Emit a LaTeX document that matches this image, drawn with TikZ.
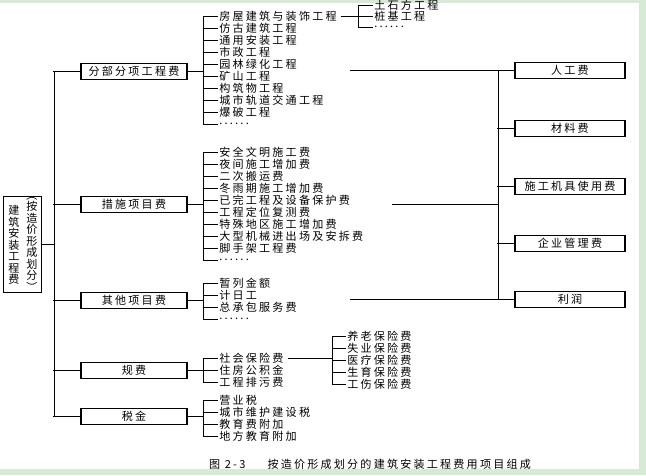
\documentclass[tikz,border=0pt]{standalone}
\usepackage{fontspec}
\setmainfont[LetterSpace=20]{Noto Sans CJK SC}
\usetikzlibrary{positioning}
\definecolor{pagegreen}{RGB}{214,234,214}
\newcommand{\moredots}{......}
\tikzstyle{cbox} = [draw, line width=0.9pt, minimum width=79.5pt, minimum height=12pt, inner sep=0pt]
\tikzstyle{rbox} = [draw, line width=0.9pt, minimum width=82.5pt, minimum height=12pt, inner sep=0pt]
\tikzstyle{item} = [anchor=west, inner sep=0pt, outer sep=1pt]

\begin{document}
\begin{tikzpicture}[x=0.75pt, y=-0.75pt, line width=0.6pt, font=\fontsize{8.3}{8.6}\selectfont]
	% ------------------- page ------------------- %
	\fill[pagegreen] (0,0) rectangle (646,475);
	\fill[white] (0,3) rectangle (639,469);
	
	% ------------------- root ------------------- %
	\node[draw, line width=0.9pt, minimum width=29pt, minimum height=72pt, inner sep=0pt] (root) at (22.5,244) {};
	\node[align=center, inner sep=0pt] (rootl) at (14,245) {建\\筑\\安\\装\\工\\程\\费};
	\node[align=center, inner sep=0pt] (rootr) at (32,244) {︵\\按\\造\\价\\形\\成\\划\\分\\︶};
	\draw (root.east) -- (54,244);
	\draw (54,71) -- (54,416);
	
	% ------------------- cost groups ------------------- %
	\foreach \name/\y/\txt in {fb/71/分部分项工程费, cs/204/措施项目费, qt/300/其他项目费, gf/370/规费, sj/416/税金}
	{
		\node[cbox] (\name) at (134,\y) {\txt};
		\draw (\name.west) -- ++(-27,0);
		\draw (\name.east) -- (203,\y);
	}
	
	% ------------------- item lists ------------------- %
	\draw (203,16) -- (203,124);
	\foreach \t [count=\i from 0] in {房屋建筑与装饰工程, 仿古建筑工程, 通用安装工程, 市政工程, 园林绿化工程, 矿山工程, 构筑物工程, 城市轨道交通工程, 爆破工程, \moredots}
	{
		\node[item] (fb-\i) at (218,{16+12*\i}) {\t};
		\draw (203,{16+12*\i}) -- (fb-\i.west);
	}
	\draw (203,152) -- (203,260);
	\foreach \t [count=\i from 0] in {安全文明施工费, 夜间施工增加费, 二次搬运费, 冬雨期施工增加费, 已完工程及设备保护费, 工程定位复测费, 特殊地区施工增加费, 大型机械进出场及安拆费, 脚手架工程费, \moredots}
	{
		\node[item] (cs-\i) at (218,{152+12*\i}) {\t};
		\draw (203,{152+12*\i}) -- (cs-\i.west);
	}
	\draw (203,283) -- (203,319);
	\foreach \t [count=\i from 0] in {暂列金额, 计日工, 总承包服务费, \moredots}
	{
		\node[item] (qt-\i) at (218,{283+12*\i}) {\t};
		\draw (203,{283+12*\i}) -- (qt-\i.west);
	}
	\draw (203,358) -- (203,382);
	\foreach \t [count=\i from 0] in {社会保险费, 住房公积金, 工程排污费}
	{
		\node[item] (gf-\i) at (218,{358+12*\i}) {\t};
		\draw (203,{358+12*\i}) -- (gf-\i.west);
	}
	\draw (203,400) -- (203,436);
	\foreach \t [count=\i from 0] in {营业税, 城市维护建设税, 教育费附加, 地方教育附加}
	{
		\node[item] (sj-\i) at (218,{400+12*\i}) {\t};
		\draw (203,{400+12*\i}) -- (sj-\i.west);
	}
	
	% ------------------- sub lists ------------------- %
	\draw (fb-0.east) ++(3,0) -- (358,16);
	\draw (358,5) -- (358,27);
	\foreach \t [count=\i from 0] in {土石方工程, 桩基工程, \moredots}
	{
		\node[item] (tf-\i) at (373,{5+11*\i}) {\t};
		\draw (358,{5+11*\i}) -- (tf-\i.west);
	}
	\draw (gf-0.east) ++(3,0) -- (332,358);
	\draw (332,336) -- (332,384);
	\foreach \t [count=\i from 0] in {养老保险费, 失业保险费, 医疗保险费, 生育保险费, 工伤保险费}
	{
		\node[item] (bx-\i) at (346,{336+12*\i}) {\t};
		\draw (332,{336+12*\i}) -- (bx-\i.west);
	}
	
	% ------------------- cost elements ------------------- %
	\foreach \name/\y/\txt in {rg/70/人工费, cl/128/材料费, jj/186/施工机具使用费, gl/243/企业管理费, lr/299/利润}
	{
		\node[rbox] (\name) at (570,\y) {\txt};
		\draw (\name.west) -- ++(-17,0);
	}
	\draw (498,70) -- (498,299);
	\draw (350,70) -- (498,70);
	\draw (392,204) -- (498,204);
	\draw (350,299) -- (498,299);
	
	% ------------------- caption ------------------- %
	\node (cap) at (370,464) {图 2-3\qquad 按造价形成划分的建筑安装工程费用项目组成};
\end{tikzpicture}
\end{document}
